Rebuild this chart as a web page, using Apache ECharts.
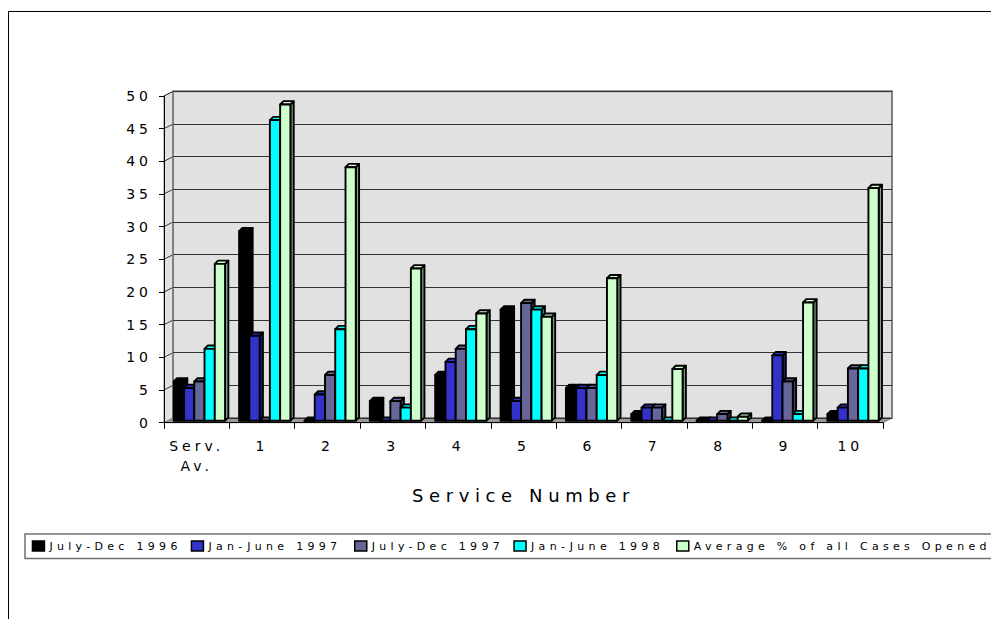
<!DOCTYPE html>
<html><head><meta charset="utf-8">
<script src="https://cdn.jsdelivr.net/npm/echarts@6/dist/echarts.min.js"></script>
<style>
html,body{margin:0;padding:0;background:#fff}
#c{width:991px;height:619px}
#c text[style*="14px"]{letter-spacing:4px}
#c text[style*="11px"]{letter-spacing:4.3px}
#c text[style*="18px"]{letter-spacing:5.6px}
</style></head><body><div id="c"></div>
<script>
const categories = ['Serv.\nAv.', '1', '2', '3', '4', '5', '6', '7', '8', '9', '10'];
const seriesNames = ['July-Dec 1996', 'Jan-June 1997', 'July-Dec 1997', 'Jan-June 1998', 'Average % of all Cases Opened'];
const julyDec1996 = [6, 29, 0, 3, 7, 17, 5, 1, 0, 0, 1];
const janJune1997 = [5, 13, 4, 0, 9, 3, 5, 2, 0, 10, 2];
const julyDec1997 = [6, 0, 7, 3, 11, 18, 5, 2, 1, 6, 8];
const janJune1998 = [11, 46, 14, 2, 14, 17, 7, 0, 0, 1, 8];
const avgPctOpened = [24, 48.4, 38.8, 23.3, 16.4, 15.9, 21.8, 7.9, 0.6, 18.1, 35.6];
const yTicks = [0, 5, 10, 15, 20, 25, 30, 35, 40, 45, 50];

const FONT = "'DejaVu Sans'";
const colors = ['#000000', '#3333CC', '#666699', '#00FFFF', '#CCFFCC'];
const sideColors = ['#000000', '#1f1f80', '#404066', '#00a0a0', '#80a080'];
const seriesData = [julyDec1996, janJune1997, julyDec1997, janJune1998, avgPctOpened];
const WALL_DX = 9, WALL_DY = 4.7, BAR_LIFT = 2, BAR_DEPTH = 3.3;

function barSeries(k) {
  return {
    type: 'custom', name: seriesNames[k], xAxisIndex: 0, yAxisIndex: 0, z: 3,
    itemStyle: { color: colors[k], borderColor: '#000', borderWidth: 1.5 },
    encode: { x: 0, y: 1 },
    data: seriesData[k].map((v, i) => [i, v]),
    renderItem(params, api) {
      const i = api.value(0), v = api.value(1);
      const band = api.size([1, 0])[0];
      const c = api.coord([i, v]), b = api.coord([i, 0]);
      const w = band * 0.157;
      const x = c[0] - band / 2 + band * 0.149 + k * w;
      const yT = c[1] - BAR_LIFT, yB = b[1] - BAR_LIFT, d = BAR_DEPTH;
      const st = { stroke: '#000', lineWidth: 1.9, lineJoin: 'round' };
      return { type: 'group', children: [
        { type: 'polygon', shape: { points: [[x + w, yB], [x + w + d, yB - d], [x + w + d, yT - d], [x + w, yT]] }, style: Object.assign({}, st, { fill: sideColors[k] }) },
        { type: 'polygon', shape: { points: [[x, yT], [x + d, yT - d], [x + w + d, yT - d], [x + w, yT]] }, style: Object.assign({}, st, { fill: colors[k] }) },
        { type: 'rect', shape: { x: x, y: yT, width: w, height: yB - yT }, style: Object.assign({}, st, { fill: colors[k] }) }
      ] };
    }
  };
}

const decor = {
  type: 'custom', silent: true, z: -1, xAxisIndex: 0, yAxisIndex: 0,
  data: [[0, 0]], encode: { x: 0, y: 1 },
  renderItem(params, api) {
    const band = api.size([1, 0])[0];
    const n = categories.length;
    const xL = api.coord([0, 0])[0] - band / 2, xR = api.coord([n - 1, 0])[0] + band / 2;
    const y0 = api.coord([0, 0])[1], yTop = api.coord([0, yTicks[yTicks.length - 1]])[1];
    const ch = [
      { type: 'polygon', shape: { points: [[xL, yTop], [xL + WALL_DX, yTop - WALL_DY], [xL + WALL_DX, y0 - WALL_DY], [xL, y0]] }, style: { fill: '#e1e1e1', stroke: '#808080', lineWidth: 1 } },
      { type: 'polygon', shape: { points: [[xL, y0], [xL + WALL_DX, y0 - WALL_DY], [xR + WALL_DX, y0 - WALL_DY], [xR, y0]] }, style: { fill: '#999999', stroke: '#808080', lineWidth: 1 } }
    ];
    yTicks.forEach(t => {
      const y = api.coord([0, t])[1];
      if (t > 0) ch.push({ type: 'line', shape: { x1: xL, y1: y, x2: xL + WALL_DX, y2: y - WALL_DY }, style: { stroke: '#333', lineWidth: 1 } });
    });
    return { type: 'group', children: ch };
  }
};

const chart = echarts.init(document.getElementById('c'), null, { renderer: 'svg' });
chart.setOption({
  animation: false,
  backgroundColor: '#fff',
  textStyle: { fontFamily: FONT },
  grid: [
    { left: 164, right: 108, top: 96, bottom: 196.3 },
    { left: 164 + WALL_DX, right: 108 - WALL_DX, top: 96 - WALL_DY, bottom: 196.3 + WALL_DY, show: true, backgroundColor: '#e1e1e1', borderColor: '#808080', borderWidth: 2 }
  ],
  xAxis: [
    { gridIndex: 0, type: 'category', data: categories, boundaryGap: true,
      axisLine: { lineStyle: { color: '#000', width: 1 } },
      axisTick: { show: true, length: 6, lineStyle: { color: '#000' } },
      axisLabel: { interval: 0, margin: 13, fontSize: 14, fontFamily: FONT, color: '#000', lineHeight: 20 },
      name: 'Service Number', nameLocation: 'middle', nameGap: 64,
      nameTextStyle: { fontSize: 18, fontFamily: FONT, color: '#000' } },
    { gridIndex: 1, type: 'value', min: 0, max: 1, show: false }
  ],
  yAxis: [
    { gridIndex: 0, type: 'value', min: 0, max: 50, interval: 5,
      axisLine: { show: true, lineStyle: { color: '#000' } },
      axisTick: { show: true, length: 5, lineStyle: { color: '#000' } },
      axisLabel: { margin: 12, fontSize: 14, fontFamily: FONT, color: '#000', padding: [3, 0, 0, 0] },
      splitLine: { show: false } },
    { gridIndex: 1, type: 'value', min: 0, max: 50, interval: 5,
      axisLine: { show: false }, axisTick: { show: false }, axisLabel: { show: false },
      splitLine: { show: true, lineStyle: { color: '#333', width: 1 } } }
  ],
  legend: seriesNames.map((n, k) => ({
    data: [n], left: [31.7, 190.7, 354, 513.3, 676][k], top: 540, padding: 0,
    itemWidth: 12, itemHeight: 10, itemGap: 0, icon: 'rect', selectedMode: false,
    itemStyle: { borderColor: '#000', borderWidth: 1.5 },
    textStyle: { fontFamily: FONT, fontSize: 11, color: '#000', lineHeight: 12 }
  })),
  graphic: [
    { type: 'rect', silent: true, z: -10, shape: { x: 8.5, y: 11.5, width: 1100, height: 700 }, style: { fill: 'none', stroke: '#000', lineWidth: 1 } },
    { type: 'rect', silent: true, z: -10, shape: { x: 25, y: 534, width: 1100, height: 24.5 }, style: { fill: 'none', stroke: '#707070', lineWidth: 1.5 } }
  ],
  series: [decor].concat([0, 1, 2, 3, 4].map(barSeries))
});
</script></body></html>
